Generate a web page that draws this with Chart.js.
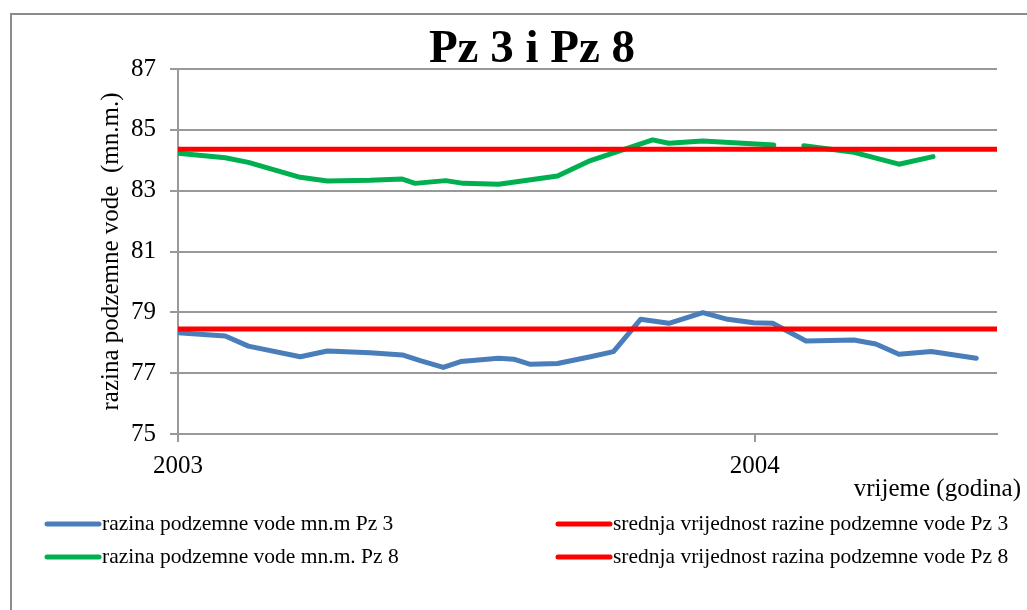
<!DOCTYPE html>
<html>
<head>
<meta charset="utf-8">
<script src="https://cdn.jsdelivr.net/npm/chart.js@4/dist/chart.umd.min.js"></script>
<style>
    html, body { margin: 0; padding: 0; background: #fff; overflow: hidden; }
    #okvir { position: relative; width: 1027px; height: 610px; }
    #rub { position: absolute; left: 10px; top: 13px; width: 1100px; height: 700px;
           border-left: 2px solid #8c8c8c; border-top: 2px solid #8c8c8c; }
    #graf { position: absolute; left: 0; top: 0; }
</style>
</head>
<body>
<div id="okvir">
    <div id="rub"></div>
    <canvas id="graf" width="1027" height="610"></canvas>
</div>
<script>
// vrijeme mjerenja (decimalna godina) i razina vode (m n.m.)
const vrijemePz3 = [2003.000, 2003.082, 2003.122, 2003.212, 2003.259, 2003.333, 2003.389, 2003.420,
    2003.460, 2003.490, 2003.556, 2003.582, 2003.611, 2003.658, 2003.715, 2003.755, 2003.802,
    2003.851, 2003.910, 2003.953, 2003.998, 2004.031, 2004.089, 2004.172, 2004.210, 2004.250,
    2004.306, 2004.384];
const razinaPz3 = [78.33, 78.22, 77.89, 77.54, 77.73, 77.67, 77.60, 77.41,
    77.19, 77.38, 77.49, 77.46, 77.29, 77.32, 77.54, 77.71, 78.77,
    78.64, 78.99, 78.77, 78.66, 78.64, 78.06, 78.09, 77.96, 77.62,
    77.71, 77.49];

const vrijemePz8 = [2003.000, 2003.082, 2003.122, 2003.212, 2003.259, 2003.333, 2003.389, 2003.411,
    2003.464, 2003.495, 2003.556, 2003.658, 2003.715, 2003.823, 2003.851, 2003.910, 2004.033,
    2004.060, 2004.085, 2004.172, 2004.250, 2004.309];
const razinaPz8 = [84.23, 84.08, 83.93, 83.44, 83.32, 83.34, 83.38, 83.24,
    83.33, 83.24, 83.21, 83.48, 83.99, 84.67, 84.56, 84.63, 84.50,
    null, 84.48, 84.26, 83.87, 84.12];

const srednjaPz3 = 78.45;
const srednjaPz8 = 84.36;

const pocetak = 2003;
const kraj = 2004.42;
const godine = [2003, 2004];

const pismo = "'Liberation Serif', 'Times New Roman', serif";
const siva = "#999999";

function tocke(xs, ys) {
    return xs.map((x, i) => ({ x: x, y: ys[i] }));
}

function ravnaCrta(v) {
    return [{ x: pocetak, y: v }, { x: kraj, y: v }];
}

// naslov, naslovi osi i legenda crtaju se ručno
const ukrasi = {
    id: "ukrasi",
    afterDraw(chart) {
        const ctx = chart.ctx;
        const area = chart.chartArea;
        ctx.save();
        ctx.fillStyle = "#000";

        ctx.font = "bold 47px " + pismo;
        ctx.textAlign = "center";
        ctx.textBaseline = "alphabetic";
        ctx.fillText("Pz 3 i Pz 8", 532, 62);

        ctx.save();
        ctx.translate(111, (area.top + area.bottom) / 2);
        ctx.rotate(-Math.PI / 2);
        ctx.font = "25px " + pismo;
        ctx.textBaseline = "middle";
        ctx.fillText("razina podzemne vode  (mn.m.)", 0, 0);
        ctx.restore();

        ctx.font = "25px " + pismo;
        ctx.textAlign = "right";
        ctx.textBaseline = "middle";
        ctx.fillText("vrijeme (godina)", 1021, 489);

        // legenda u dva stupca
        const stupci = [45, 556];
        const redovi = [524, 557];
        ctx.font = "21.5px " + pismo;
        ctx.textAlign = "left";
        chart.data.datasets.forEach((ds, i) => {
            const x = stupci[i % 2];
            const y = redovi[Math.floor(i / 2)];
            ctx.strokeStyle = ds.borderColor;
            ctx.lineWidth = 5;
            ctx.lineCap = "round";
            ctx.beginPath();
            ctx.moveTo(x + 2, y);
            ctx.lineTo(x + 54, y);
            ctx.stroke();
            ctx.fillText(ds.label, x + 57, y);
        });
        ctx.restore();
    }
};

new Chart(document.getElementById("graf"), {
    type: "line",
    data: {
        datasets: [
            {
                label: "razina podzemne vode mn.m Pz 3",
                data: tocke(vrijemePz3, razinaPz3),
                borderColor: "#4A7EBB",
                order: 2,
            },
            {
                label: "srednja vrijednost razine podzemne vode Pz 3",
                data: ravnaCrta(srednjaPz3),
                borderColor: "#FF0000",
                order: 1,
            },
            {
                label: "razina podzemne vode mn.m. Pz 8",
                data: tocke(vrijemePz8, razinaPz8),
                borderColor: "#00B050",
                order: 2,
            },
            {
                label: "srednja vrijednost razina podzemne vode Pz 8",
                data: ravnaCrta(srednjaPz8),
                borderColor: "#FF0000",
                order: 1,
            },
        ],
    },
    options: {
        responsive: false,
        animation: false,
        spanGaps: false,
        layout: { padding: { left: 98, right: 30, top: 69, bottom: 116 } },
        elements: {
            line: { borderWidth: 5, tension: 0, borderCapStyle: "round", borderJoinStyle: "round" },
            point: { radius: 0, hoverRadius: 0 },
        },
        plugins: {
            legend: { display: false },
            title: { display: false },
            tooltip: { enabled: false },
        },
        scales: {
            x: {
                type: "linear",
                min: pocetak,
                max: kraj,
                afterBuildTicks: (s) => { s.ticks = godine.map((g) => ({ value: g })); },
                afterFit: (s) => { s.height = 60; },
                ticks: {
                    color: "#000",
                    font: { family: pismo, size: 25 },
                    padding: 9,
                    maxRotation: 0,
                    callback: (v) => String(v),
                },
                grid: { drawOnChartArea: false, color: siva, lineWidth: 2, tickLength: 8 },
                border: { color: siva, width: 2 },
            },
            y: {
                min: 75,
                max: 87,
                afterFit: (s) => { s.width = 80; },
                ticks: {
                    stepSize: 2,
                    color: "#000",
                    font: { family: pismo, size: 25 },
                    padding: 14,
                },
                grid: { color: siva, lineWidth: 2, tickLength: 8 },
                border: { color: siva, width: 2 },
            },
        },
    },
    plugins: [ukrasi],
});
</script>
</body>
</html>
